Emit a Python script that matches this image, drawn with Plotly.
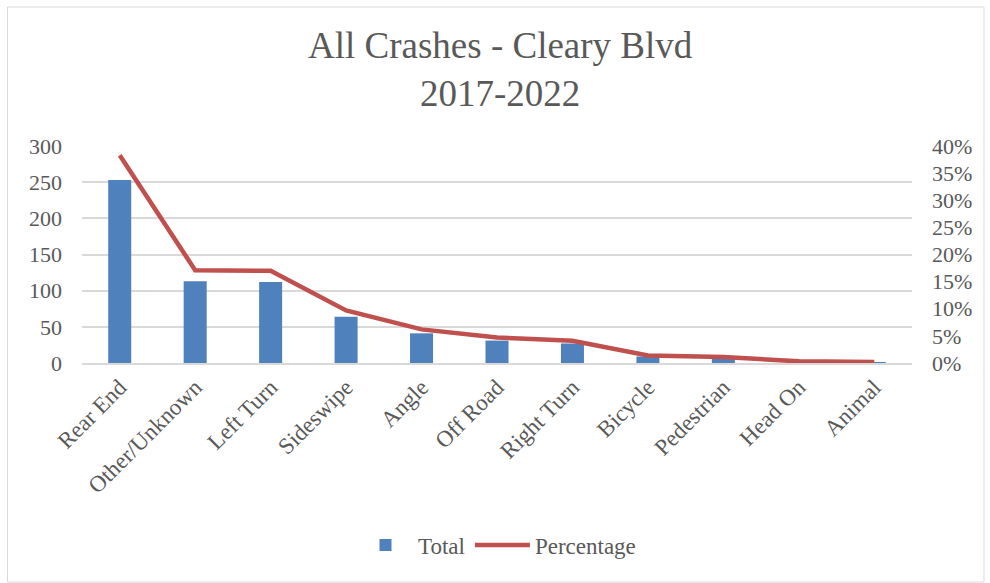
import plotly.graph_objects as go

categories = ["Rear End", "Other/Unknown", "Left Turn", "Sideswipe", "Angle", "Off Road",
              "Right Turn", "Bicycle", "Pedestrian", "Head On", "Animal"]
totals = [253, 113, 112, 64, 41, 31, 27, 9, 7, 2, 1]
percentages = [0.383, 0.171, 0.170, 0.097, 0.062, 0.047, 0.041, 0.014, 0.011, 0.003, 0.002]

FONT = "Liberation Serif, Times New Roman, serif"
TXT = "#595959"
GRID = "#d9d9d9"

W, H = 990, 583
L, R, T, B = 82, 78, 146, 220
pw = W - L - R
ph = H - T - B

def px_x(x):
    return (x - L) / pw

def px_y(y):
    return (H - B - y) / ph

fig = go.Figure()
fig.add_trace(go.Bar(x=categories, y=totals, name="Total", marker_color="#4f81bd",
                     marker_line_width=0, yaxis="y"))
fig.add_trace(go.Scatter(x=categories, y=percentages, name="Percentage", mode="lines",
                         line=dict(color="#c0504d", width=4.5), yaxis="y2"))

fig.update_layout(
    width=W, height=H,
    margin=dict(l=L, r=R, t=T, b=B),
    paper_bgcolor="white", plot_bgcolor="white",
    font=dict(family=FONT, color=TXT, size=22),
    bargap=0.695,
    showlegend=True,
    legend=dict(orientation="h", x=0.5, xanchor="center", y=px_y(545), yanchor="middle",
                font=dict(size=23, color=TXT), itemwidth=55, tracegroupgap=20),
    xaxis=dict(tickangle=-45, tickfont=dict(size=23, color=TXT), showline=True,
               linecolor=GRID, linewidth=1.5, showgrid=False, ticks=""),
    yaxis=dict(range=[0, 300], dtick=50, showgrid=True, gridcolor=GRID, gridwidth=1.5,
               zeroline=False, tickfont=dict(size=22, color=TXT), ticks="",
               ticklabelstandoff=19),
    yaxis2=dict(range=[0, 0.4], dtick=0.05, tickformat=".0%", overlaying="y", side="right",
                showgrid=False, zeroline=False, tickfont=dict(size=22, color=TXT), ticks="",
                ticklabelstandoff=19),
    annotations=[dict(text="All Crashes - Cleary Blvd<br>2017-2022", xref="paper", yref="paper",
                      x=px_x(500), y=px_y(70), xanchor="center", yanchor="middle",
                      showarrow=False, font=dict(family=FONT, size=37, color=TXT))],
    shapes=[dict(type="rect", xref="paper", yref="paper",
                 x0=px_x(7.5), x1=px_x(984), y0=px_y(582), y1=px_y(7),
                 line=dict(color=GRID, width=1), fillcolor="rgba(0,0,0,0)", layer="below")],
)

fig.write_html("out.html", config={"displayModeBar": False},
               post_script="document.body.style.margin='0';document.body.style.overflow='hidden';")
